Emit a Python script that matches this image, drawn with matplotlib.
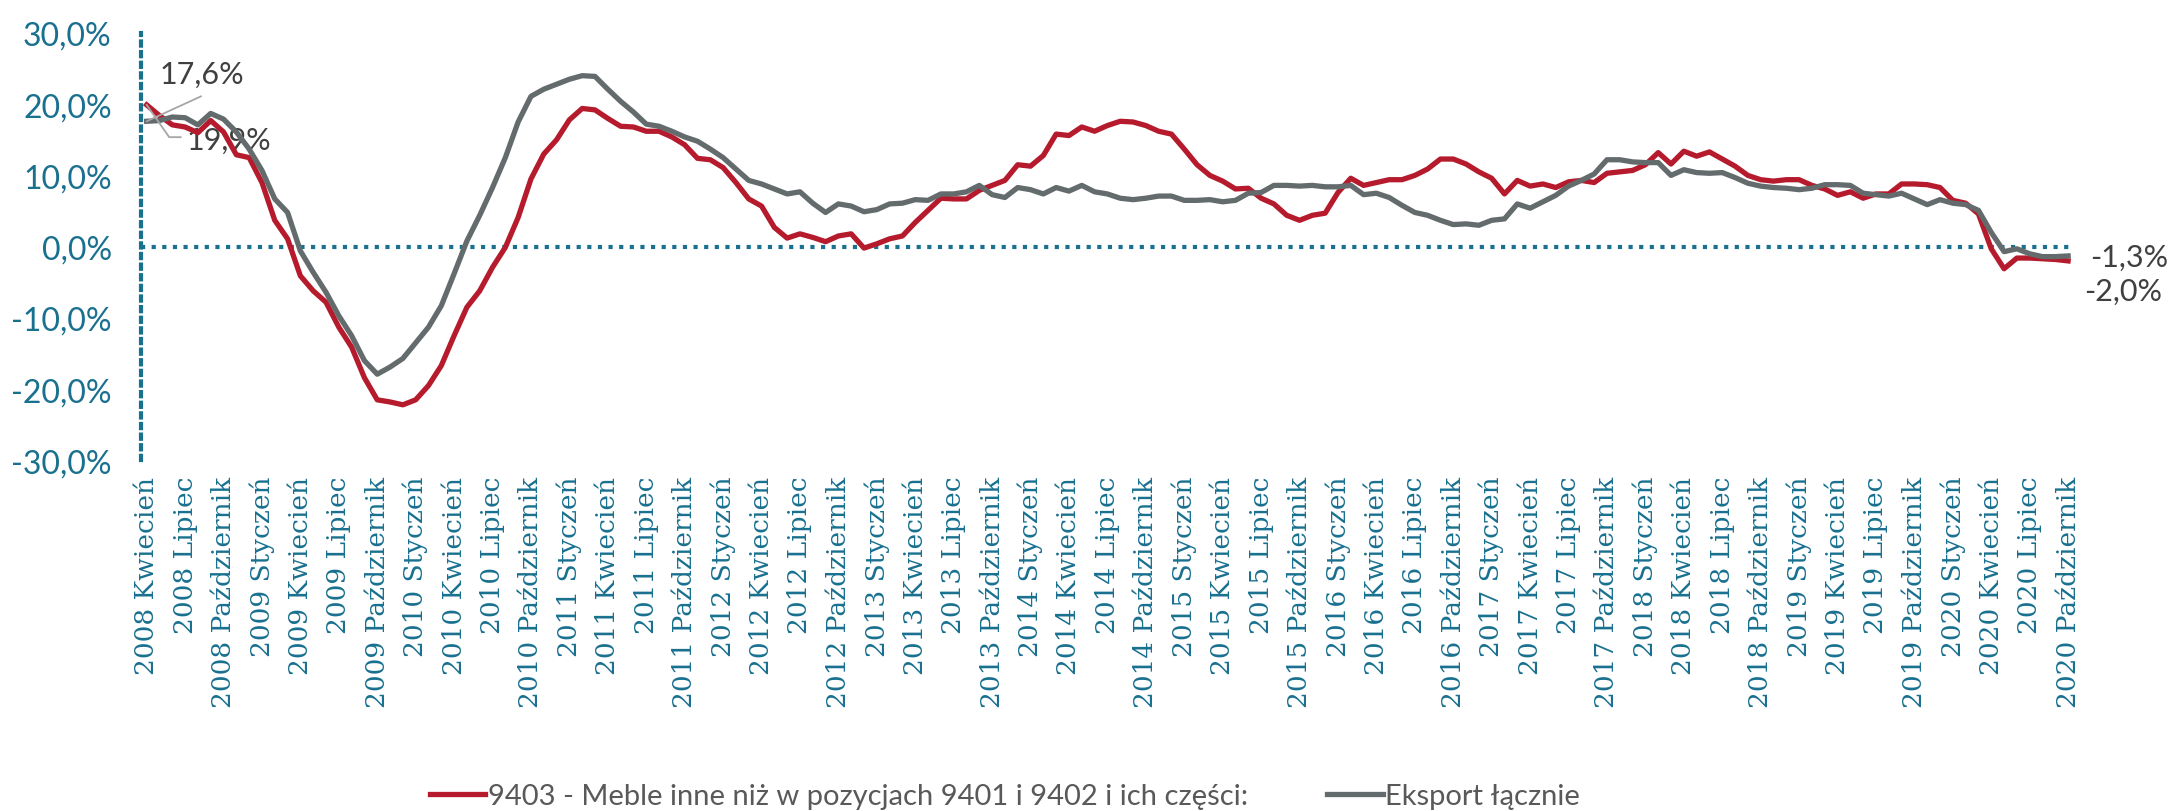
import matplotlib
matplotlib.use("Agg")
import matplotlib.pyplot as plt
import matplotlib.transforms as mtransforms
from matplotlib.lines import Line2D

# months Apr 2008 - Oct 2020, labels every 3 months
years = list(range(2008, 2021))
quarter_months = ["Styczeń", "Kwiecień", "Lipiec", "Październik"]

meble = [19.9, 18.4, 17.1, 16.8, 16.0, 17.7, 16.1, 12.9, 12.5, 9.0,
         3.7, 1.1, -4.1, -6.2, -7.8, -11.3, -14.1, -18.4, -21.5, -21.8,
         -22.2, -21.5, -19.5, -16.7, -12.5, -8.5, -6.2, -2.9, -0.1, 4.1,
         9.5, 13.0, 15.0, 17.8, 19.4, 19.2, 18.0, 16.9, 16.8, 16.2,
         16.2, 15.4, 14.3, 12.4, 12.2, 11.1, 9.0, 6.7, 5.7, 2.7,
         1.2, 1.8, 1.3, 0.7, 1.5, 1.8, -0.2, 0.4, 1.1, 1.5,
         3.4, 5.1, 6.8, 6.7, 6.7, 7.9, 8.6, 9.3, 11.5, 11.3,
         12.8, 15.8, 15.6, 16.8, 16.2, 17.0, 17.6, 17.5, 17.0, 16.2,
         15.8, 13.7, 11.5, 10.0, 9.2, 8.1, 8.2, 6.8, 6.0, 4.4,
         3.7, 4.4, 4.7, 7.6, 9.6, 8.6, 9.0, 9.4, 9.4, 10.0,
         10.9, 12.3, 12.3, 11.6, 10.5, 9.6, 7.4, 9.3, 8.5, 8.8,
         8.3, 9.1, 9.3, 9.0, 10.3, 10.5, 10.7, 11.5, 13.2, 11.6,
         13.4, 12.7, 13.3, 12.3, 11.3, 10.0, 9.4, 9.2, 9.4, 9.4,
         8.6, 8.1, 7.2, 7.7, 6.8, 7.4, 7.4, 8.8, 8.8, 8.7,
         8.3, 6.5, 6.1, 4.6, -0.3, -3.1, -1.6, -1.6, -1.7, -1.8,
         -2.0]

eksport = [17.6, 17.7, 18.2, 18.1, 17.1, 18.7, 17.9, 16.1, 13.7, 10.7,
           6.7, 4.8, -0.6, -3.6, -6.4, -9.7, -12.5, -16.0, -17.9, -16.9,
           -15.7, -13.5, -11.3, -8.3, -3.8, 0.8, 4.4, 8.3, 12.5, 17.5,
           21.1, 22.1, 22.8, 23.5, 24.0, 23.9, 22.1, 20.4, 18.9, 17.2,
           16.9, 16.2, 15.4, 14.8, 13.7, 12.5, 10.9, 9.3, 8.8, 8.1,
           7.4, 7.7, 6.1, 4.8, 6.0, 5.7, 4.9, 5.2, 6.0, 6.1,
           6.6, 6.5, 7.4, 7.4, 7.7, 8.6, 7.3, 6.9, 8.3, 8.0,
           7.4, 8.3, 7.8, 8.6, 7.7, 7.4, 6.8, 6.6, 6.8, 7.1,
           7.1, 6.5, 6.5, 6.6, 6.3, 6.5, 7.5, 7.6, 8.6, 8.6,
           8.5, 8.6, 8.4, 8.4, 8.6, 7.3, 7.5, 6.9, 5.8, 4.8,
           4.4, 3.7, 3.1, 3.2, 3.0, 3.7, 3.9, 6.0, 5.4, 6.3,
           7.2, 8.5, 9.3, 10.2, 12.2, 12.2, 11.9, 11.8, 11.8, 10.0,
           10.8, 10.4, 10.3, 10.4, 9.7, 8.9, 8.5, 8.3, 8.2, 8.0,
           8.2, 8.7, 8.7, 8.6, 7.5, 7.3, 7.1, 7.5, 6.7, 5.9,
           6.6, 6.1, 5.9, 5.1, 2.0, -0.7, -0.3, -1.0, -1.4, -1.4,
           -1.3]

labels_all = []
for y in years:
    for q in quarter_months:
        labels_all.append(f"{y} {q}")
labels = labels_all[1:]          # 2008 Kwiecień .. 2020 Październik
months = list(range(len(meble)))
tick_pos = months[::3]

teal = '#19708F'
red = '#B51B2C'
grey = '#646B6D'
txt_grey = '#404040'
lead = '#A6A6A6'
sans = 'Lato'

fig = plt.figure(figsize=(21.69, 8.12), dpi=100)
ax = fig.add_axes([0.06496, 0.4318, 0.8903, 0.5264])

ax.plot(months, meble, color=red, lw=3.8, solid_joinstyle='round', zorder=3)
ax.plot(months, eksport, color=grey, lw=3.8, solid_joinstyle='round', zorder=4)

ax.axhline(0, color=teal, lw=3, ls=(0, (1, 1.55)), zorder=1)

ax.set_xlim(-0.45, 150.3)
ax.set_ylim(-30, 30)
ax.set_yticks(range(-30, 31, 10))
ax.set_yticklabels([f"{v},0%" for v in range(-30, 31, 10)],
                   fontsize=23, color=teal, family=sans)
up = mtransforms.ScaledTranslation(0, 4 / 72, fig.dpi_scale_trans)
for lab in ax.get_yticklabels():
    lab.set_transform(lab.get_transform() + up)
ax.set_xticks(tick_pos)
ax.set_xticklabels(labels, rotation=90, fontsize=19, color=teal,
                   family='DejaVu Serif', va='top', ha='center')
ax.tick_params(axis='y', length=0, pad=21)
ax.tick_params(axis='x', length=0, pad=11)

for s in ['top', 'right', 'bottom']:
    ax.spines[s].set_visible(False)
ax.spines['left'].set_color(teal)
ax.spines['left'].set_linewidth(3)
ax.spines['left'].set_linestyle((0, (1, 1.55)))

# start labels with leader lines
ax.text(4.3, 24.3, "17,6%", fontsize=22, color=txt_grey, family=sans,
        ha='center', va='center')
ax.plot([4.24, 0], [21.1, eksport[0]], color=lead, lw=1.3, zorder=5)
ax.text(6.4, 15.0, "19,9%", fontsize=22, color=txt_grey, family=sans,
        ha='center', va='center', zorder=2)
ax.plot([2.65, 1.76, 0], [15.37, 15.37, meble[0]], color=lead, lw=1.3, zorder=5)

# end labels
ax.annotate("-1,3%", xy=(1.0, -1.45), xycoords=ax.get_yaxis_transform(),
            xytext=(13, 0), textcoords='offset points',
            fontsize=22, color=txt_grey, family=sans, va='center')
ax.annotate("-2,0%", xy=(1.0, -6.2), xycoords=ax.get_yaxis_transform(),
            xytext=(9, 0), textcoords='offset points',
            fontsize=22, color=txt_grey, family=sans, va='center')

handles = [Line2D([], [], color=red, lw=3.8),
           Line2D([], [], color=grey, lw=3.8)]
fig.legend(handles, ["9403 - Meble inne niż w pozycjach 9401 i 9402 i ich części:",
                     "Eksport łącznie"],
           loc='center', bbox_to_anchor=(0.4634, 0.0185), ncol=2, frameon=False,
           prop={'family': sans, 'size': 21}, labelcolor='#595959',
           handlelength=1.9, handletextpad=0.1, columnspacing=2.7)

fig.savefig("out.png", dpi=100)
